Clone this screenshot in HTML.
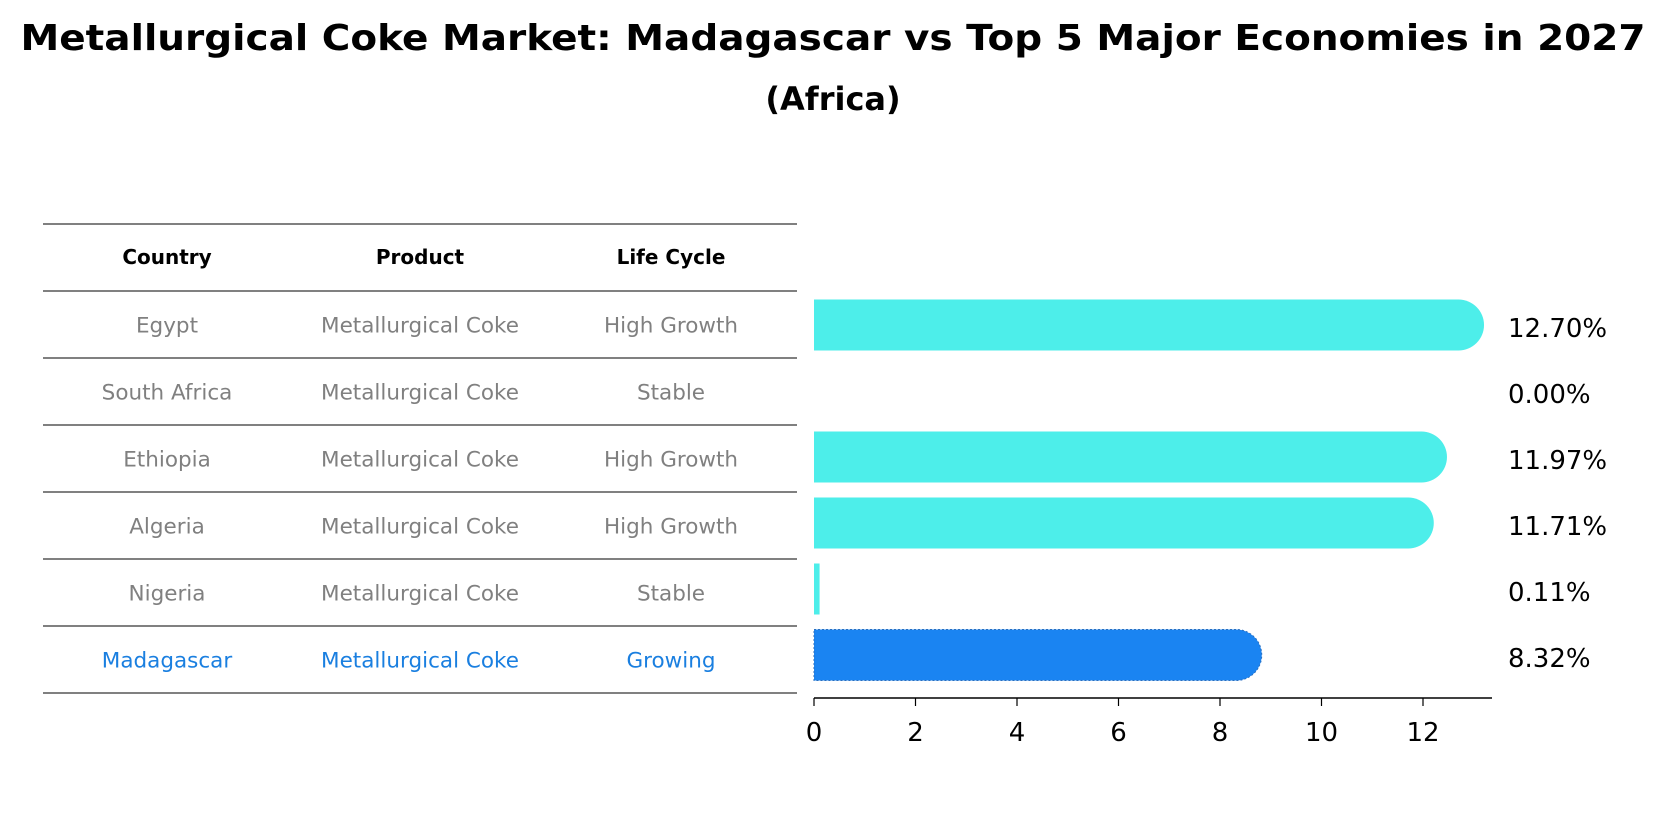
<!DOCTYPE html>
<html><head><meta charset="utf-8"><style>
body{margin:0;background:#fff;}
svg text{font-family:"DejaVu Sans","Liberation Sans",sans-serif;}
</style></head><body>
<svg width="1659" height="823" xmlns="http://www.w3.org/2000/svg">
<text x="833" y="50" text-anchor="middle" font-size="36" font-weight="bold" textLength="1625" lengthAdjust="spacingAndGlyphs">Metallurgical Coke Market: Madagascar vs Top 5 Major Economies in 2027</text>
<text x="833" y="110" text-anchor="middle" font-size="32" font-weight="bold">(Africa)</text>
<g id="table"></g>
<g id="bars"></g>
<g id="axis"></g>
</svg>
<script>
const countries=["Egypt","South Africa","Ethiopia","Algeria","Nigeria","Madagascar"];
const products=["Metallurgical Coke","Metallurgical Coke","Metallurgical Coke","Metallurgical Coke","Metallurgical Coke","Metallurgical Coke"];
const lifeCycles=["High Growth","Stable","High Growth","High Growth","Stable","Growing"];
const values=[12.70,0.00,11.97,11.71,0.11,8.32];
const valueLabels=["12.70%","0.00%","11.97%","11.71%","0.11%","8.32%"];
const ticks=[0,2,4,6,8,10,12];
const highlight="Madagascar";

const NS="http://www.w3.org/2000/svg";
function mk(tag,attrs,parent){const e=document.createElementNS(NS,tag);for(const k in attrs)e.setAttribute(k,attrs[k]);parent.appendChild(e);return e;}
const x0=814, pxPerUnit=(1423-814)/12;
const xs=v=>x0+v*pxPerUnit;
const barY=i=>325+i*66;
const barH=51;

// table
const tbl=document.getElementById('table');
const lineYs=[224,291,358,425,492,559,626,693];
lineYs.forEach((y,i)=>{const l=mk('line',{x1:43,x2:797,y1:y,y2:y,stroke:'#000','stroke-width':1},tbl);

});
const colX=[167,420,671];
["Country","Product","Life Cycle"].forEach((h,j)=>{const t=mk('text',{x:colX[j],y:264,'text-anchor':'middle','font-size':20,'font-weight':'bold'},tbl);t.textContent=h;

});
countries.forEach((c,i)=>{
  const y=(lineYs[i+1]+lineYs[i+2])/2+8;
  const col=c===highlight?'#1a7fe0':'#808080';
  [c,products[i],lifeCycles[i]].forEach((v,j)=>{const t=mk('text',{x:colX[j],y:y,'text-anchor':'middle','font-size':21.5,fill:col},tbl);t.textContent=v;
  
  });
});

// bars
const bg=document.getElementById('bars');
values.forEach((v,i)=>{
  const yc=barY(i), w=xs(v)-x0, r=barH/2;
  const isH=countries[i]===highlight;
  const fill=isH?'#1a84f2':'#4deeea';
  if(w>0){
    let d;
    if(w>r){d=`M${x0},${yc-r} H${xs(v)} A${r},${r} 0 0 1 ${xs(v)},${yc+r} H${x0} Z`;}
    else{d=`M${x0},${yc-r} h${w} v${barH} h${-w} Z`;}
    const p=mk('path',{d:d,fill:fill},bg);
    if(isH){p.setAttribute('stroke','#2a6fc0');p.setAttribute('stroke-dasharray','2,2');p.setAttribute('stroke-width','1');}
    
    
  }
  const t=mk('text',{x:1508,y:yc+12,'font-size':26},bg);t.textContent=valueLabels[i];
  
  
});

// axis
const ax=document.getElementById('axis');
const al=mk('line',{x1:x0,x2:1492,y1:698,y2:698,stroke:'#000','stroke-width':1.5},ax);


ticks.forEach(tv=>{
  const l=mk('line',{x1:xs(tv),x2:xs(tv),y1:698,y2:706,stroke:'#000','stroke-width':1.2},ax);
  
  
  const t=mk('text',{x:xs(tv),y:741,'text-anchor':'middle','font-size':26},ax);t.textContent=tv;
  
  
});
</script>
</body></html>
